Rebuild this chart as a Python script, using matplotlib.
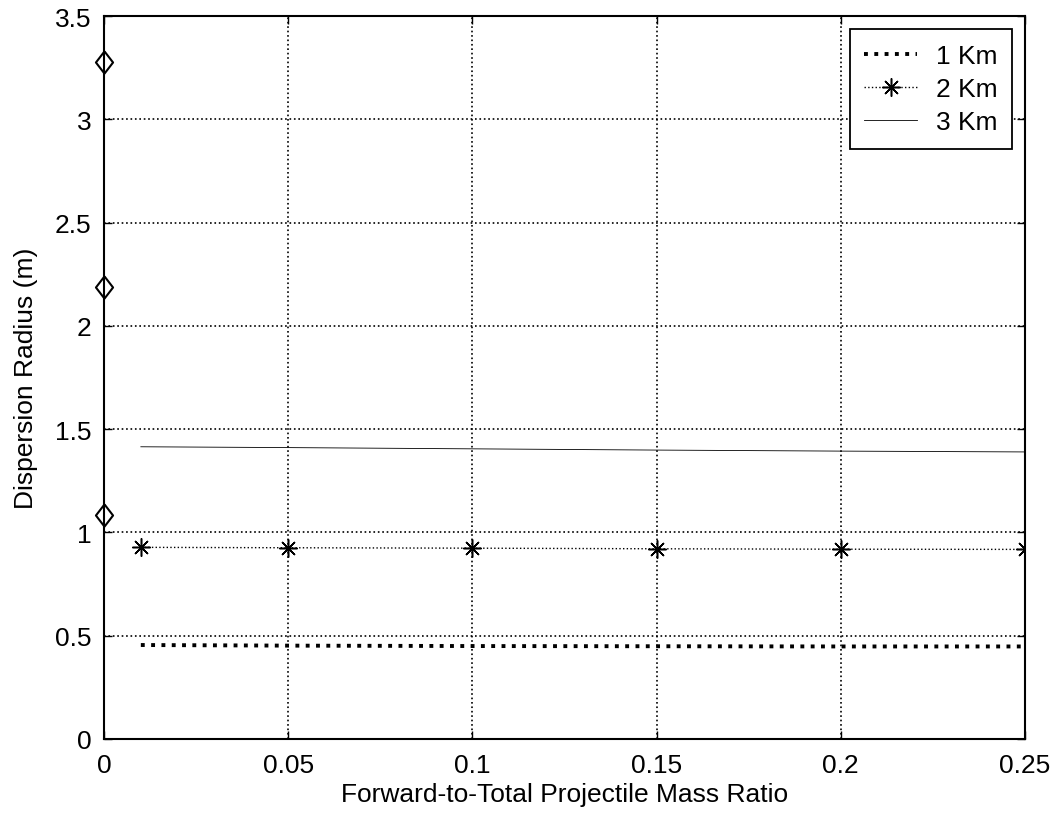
import numpy as np
import matplotlib
matplotlib.use("Agg")
from matplotlib import pyplot as plt

plt.rcParams['font.family'] = ['Liberation Sans', 'DejaVu Sans']

# data
x_diamond = [0, 0, 0]
y_diamond = [3.28, 2.19, 1.085]

x_1km = [0.01, 0.05, 0.10, 0.15, 0.20, 0.25]
y_1km = [0.455, 0.452, 0.450, 0.449, 0.448, 0.448]

x_2km = [0.01, 0.05, 0.10, 0.15, 0.20, 0.25]
y_2km = [0.928, 0.926, 0.924, 0.921, 0.919, 0.918]

x_3km = [0.01, 0.05, 0.10, 0.15, 0.20, 0.25]
y_3km = [1.415, 1.411, 1.405, 1.399, 1.394, 1.390]

xticks = [0, 0.05, 0.1, 0.15, 0.2, 0.25]
xticklabels = ['0', '0.05', '0.1', '0.15', '0.2', '0.25']
yticks = [0, 0.5, 1, 1.5, 2, 2.5, 3, 3.5]
yticklabels = ['0', '0.5', '1', '1.5', '2', '2.5', '3', '3.5']

fig = plt.figure(figsize=(10.57, 8.2), dpi=100)
ax = fig.add_axes([0.0984, 0.0976, 0.8713, 0.8814])

# MATLAB-like asterisk and diamond markers
star = (8, 2, 0)
diamond = [(0, 1), (0.77, 0), (0, -1), (-0.77, 0), (0, 1)]

ax.plot(x_1km, y_1km, color='black', linestyle=':', linewidth=2.8, label='1 Km')
ax.plot(x_2km, y_2km, color='black', linestyle=':', linewidth=1.0, marker=star,
        markersize=13, markeredgewidth=1.1, label='2 Km')
ax.plot(x_3km, y_3km, color='black', linestyle='-', linewidth=0.6, label='3 Km')
ax.plot(x_diamond, y_diamond, linestyle='none', marker=diamond, markersize=16,
        markerfacecolor='none', markeredgecolor='black', markeredgewidth=1.5,
        clip_on=False)

ax.set_xlim(0, 0.25)
ax.set_ylim(0, 3.5)
ax.set_xticks(xticks)
ax.set_xticklabels(xticklabels)
ax.set_yticks(yticks)
ax.set_yticklabels(yticklabels)
ax.tick_params(direction='in', length=6, width=1, top=True, right=True,
               labelsize=19)
ax.tick_params(axis='x', pad=10)
ax.tick_params(axis='y', pad=9)
ax.grid(True, color='black', linestyle=':', linewidth=1.2)
for s in ax.spines.values():
    s.set_linewidth(1.5)

ax.set_xlabel('Forward-to-Total Projectile Mass Ratio', fontsize=19, labelpad=4)
ax.set_ylabel('Dispersion Radius (m)', fontsize=19, labelpad=12)

leg = ax.legend(loc='upper right', fontsize=19, fancybox=False, framealpha=1,
                edgecolor='black', borderaxespad=0.5, handlelength=2.0,
                handletextpad=0.7, labelspacing=0.35, borderpad=0.55)
leg.get_frame().set_linewidth(1.3)

plt.savefig('out.png', dpi=100)
